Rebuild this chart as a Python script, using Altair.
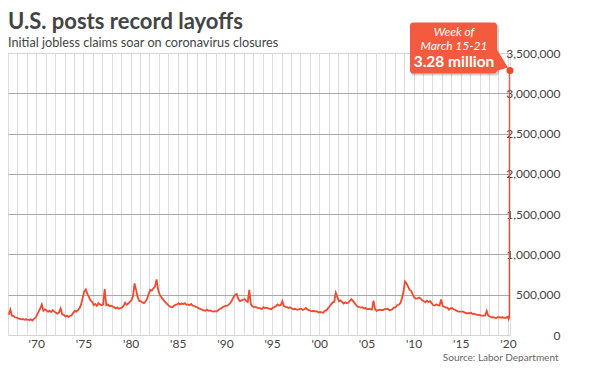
import altair as alt
import pandas as pd

# Initial jobless claims, thousands, six readings per year
claims_1960s = [
    250, 316, 240, 235, 220, 215,   # 1967
    205, 200, 195, 200, 190, 195,   # 1968
    190, 185, 195, 180, 200, 215,   # 1969
]
claims_1970s = [
    250, 290, 330, 380, 300, 320,   # 1970
    305, 290, 300, 285, 310, 290,   # 1971
    275, 265, 280, 330, 255, 250,   # 1972
    230, 240, 225, 235, 245, 275,   # 1973
    300, 290, 310, 330, 380, 460,   # 1974
    540, 566, 510, 470, 430, 415,   # 1975
    370, 385, 360, 395, 380, 370,   # 1976
    380, 570, 370, 380, 360, 365,   # 1977
    355, 345, 330, 340, 325, 335,   # 1978
    340, 360, 400, 375, 390, 410,   # 1979
]
claims_1980s = [
    430, 480, 640, 560, 470, 420,   # 1980
    420, 405, 395, 415, 450, 510,   # 1981
    560, 550, 580, 600, 690, 560,   # 1982
    500, 470, 445, 420, 400, 380,   # 1983
    360, 350, 345, 360, 375, 380,   # 1984
    395, 380, 390, 385, 395, 375,   # 1985
    380, 370, 385, 365, 360, 350,   # 1986
    345, 330, 320, 315, 305, 300,   # 1987
    315, 300, 305, 295, 290, 295,   # 1988
    290, 305, 320, 330, 345, 355,   # 1989
]
claims_1990s = [
    360, 365, 380, 400, 430, 470,   # 1990
    500, 510, 450, 420, 430, 440,   # 1991
    445, 425, 410, 560, 380, 355,   # 1992
    350, 345, 340, 335, 330, 320,   # 1993
    345, 335, 340, 330, 325, 320,   # 1994
    340, 345, 360, 380, 365, 370,   # 1995
    420, 360, 350, 345, 335, 345,   # 1996
    330, 320, 325, 315, 315, 320,   # 1997
    325, 310, 320, 335, 315, 310,   # 1998
    300, 295, 300, 290, 295, 280,   # 1999
]
claims_2000s = [
    285, 280, 275, 300, 305, 330,   # 2000
    350, 380, 405, 410, 525, 470,   # 2001
    420, 430, 410, 390, 405, 395,   # 2002
    400, 425, 445, 420, 395, 370,   # 2003
    350, 345, 340, 345, 330, 335,   # 2004
    320, 325, 320, 315, 425, 320,   # 2005
    300, 310, 315, 310, 310, 320,   # 2006
    320, 325, 310, 310, 320, 340,   # 2007
    345, 370, 375, 390, 450, 530,   # 2008
    665, 640, 600, 560, 545, 500,   # 2009
]
claims_2010s = [
    465, 450, 455, 465, 450, 430,   # 2010
    420, 405, 425, 410, 420, 395,   # 2011
    370, 365, 380, 370, 365, 440,   # 2012
    360, 350, 340, 340, 315, 330,   # 2013
    335, 320, 310, 300, 290, 290,   # 2014
    290, 290, 280, 270, 270, 270,   # 2015
    275, 260, 265, 255, 250, 250,   # 2016
    245, 240, 240, 240, 300, 240,   # 2017
    230, 220, 220, 215, 210, 220,   # 2018
    220, 215, 220, 215, 210, 225,   # 2019
]
weeks_2020 = [2020.01, 2020.05, 2020.09, 2020.13, 2020.17, 2020.19, 2020.20, 2020.22]
claims_2020 = [212, 220, 202, 215, 217, 211, 282, 3283]

annotation_lines = ["Week of", "March 15-21", "3.28 million"]
y_ticks = [0, 500000, 1000000, 1500000, 2000000, 2500000, 3000000, 3500000]
x_ticks = list(range(1967, 2021))

rows = []
for start, vals in [(1967, claims_1960s), (1970, claims_1970s), (1980, claims_1980s),
                    (1990, claims_1990s), (2000, claims_2000s), (2010, claims_2010s)]:
    for k, v in enumerate(vals):
        rows.append({"t": start + k // 6 + (k % 6 + 0.5) / 6, "claims": v * 1000})
for t, v in zip(weeks_2020, claims_2020):
    rows.append({"t": t, "claims": v * 1000})
df = pd.DataFrame(rows)
last = df.iloc[[-1]].copy()

RED = "#f2492f"
BOX = "#f45a3e"
TXT = "#444444"
FONT = "Lato"

x = alt.X(
    "t:Q",
    scale=alt.Scale(domain=[1967, 2020.22], nice=False, zero=False),
    axis=alt.Axis(
        values=x_ticks, tickCount=100,
        labelExpr="datum.value % 5 == 0 ? \"'\" + substring(toString(datum.value), 2, 4) : ''",
        grid=True, gridColor="#dcdcdc", gridWidth=1,
        ticks=False, domain=False, labelFlush=False, labelOverlap=False,
        labelPadding=3, labelFontSize=12, labelColor=TXT, labelFont=FONT,
        title="Source: Labor Department", titleX=550, titleY=22,
        titleAlign="right", titleAnchor="end", titleBaseline="middle",
        titleFont=FONT, titleFontSize=10, titleFontWeight="normal", titleColor="#666666",
    ),
)
y = alt.Y(
    "claims:Q",
    scale=alt.Scale(domain=[0, 3500000], nice=False),
    axis=alt.Axis(
        orient="right", values=y_ticks, tickCount=20, format=",d",
        grid=True,
        gridColor={"condition": {"test": "datum.value == 0 || datum.value == 3500000", "value": "#d4d4d4"}, "value": "#a9a9a9"},
        ticks=False, tickSize=0, domain=False,
        labelAlign="right", labelBaseline="middle", labelPadding=50,
        labelFontSize=12, labelColor=TXT, labelFont=FONT, title=None,
    ),
)

line = alt.Chart(df).mark_line(color=RED, strokeWidth=1.8, clip=True).encode(x=x, y=y)

base_last = alt.Chart(last)
shadow = base_last.mark_rect(color="#000000", opacity=0.18, cornerRadius=3,
                             xOffset=-99, x2Offset=-11, yOffset=-46, y2Offset=5).encode(
    x="t:Q", x2="t:Q", y="claims:Q", y2="claims:Q")
box = base_last.mark_rect(color=BOX, cornerRadius=3,
                          xOffset=-100, x2Offset=-13, yOffset=-48, y2Offset=3).encode(
    x="t:Q", x2="t:Q", y="claims:Q", y2="claims:Q")
tail = base_last.mark_point(shape="M -15 -24 L -2 -3 L -15 1 Z", size=4, filled=True,
                            opacity=1, color=BOX, strokeWidth=0).encode(x="t:Q", y="claims:Q")
dot = base_last.mark_point(shape="circle", size=50, filled=True, opacity=1, color=RED).encode(
    x="t:Q", y="claims:Q")
t1 = base_last.mark_text(text=annotation_lines[0], font=FONT, fontStyle="italic", fontSize=12,
                         color="white", align="center", baseline="middle", dx=-56, dy=-38).encode(
    x="t:Q", y="claims:Q")
t2 = base_last.mark_text(text=annotation_lines[1], font=FONT, fontStyle="italic", fontSize=12,
                         color="white", align="center", baseline="middle", dx=-56, dy=-24.5).encode(
    x="t:Q", y="claims:Q")
t3 = base_last.mark_text(text=annotation_lines[2], font=FONT, fontWeight="bold", fontSize=15.5,
                         color="white", align="center", baseline="middle", dx=-56, dy=-8).encode(
    x="t:Q", y="claims:Q")

chart = alt.layer(line, shadow, box, tail, dot, t1, t2, t3).properties(
    width=502, height=282,
    title=alt.TitleParams(
        text="U.S. posts record layoffs",
        subtitle="Initial jobless claims soar on coronavirus closures",
        anchor="start", frame="group", offset=-28,
        font=FONT, fontSize=22, fontWeight="bold", color=TXT,
        subtitleFont=FONT, subtitleFontSize=12.7, subtitleColor=TXT, subtitlePadding=3,
    ),
    autosize=alt.AutoSizeParams(type="none"),
    padding={"left": 0, "top": 45, "right": 71, "bottom": 27},
).configure_view(stroke="#cfcfcf").configure(background="white")

chart.save("out.html", embed_options={"renderer": "svg", "actions": False})
